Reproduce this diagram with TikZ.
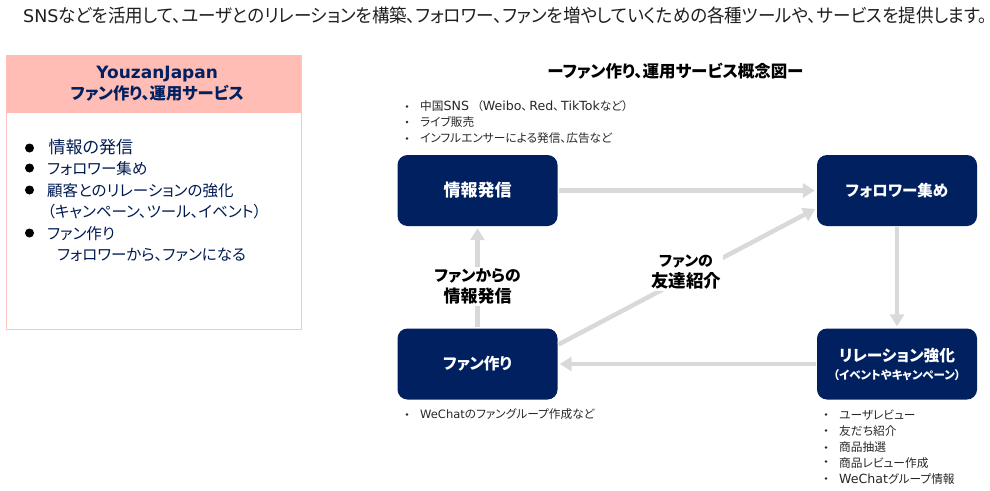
\documentclass[tikz,border=0pt]{standalone}
\usepackage{fontspec}
\usetikzlibrary{arrows.meta,calc}
\setmainfont{Noto Sans CJK JP}[RawFeature={+palt}]
\newfontfamily\topfont{Noto Sans CJK JP}[RawFeature={+palt},FakeStretch=0.947]
\newfontfamily\lat{DejaVu Sans}
\newcommand{\latn}[1]{{\lat\fontsize{11.5}{16}\selectfont #1}}
\newcommand{\latb}[1]{{\lat\fontsize{12.6}{16}\selectfont #1}}
\definecolor{navy}{HTML}{002060}
\definecolor{pinkhead}{HTML}{FFBDB5}
\definecolor{pinkline}{HTML}{FFC4C0}
\definecolor{arrowgray}{HTML}{D9D9D9}
\tikzset{
  x=1pt,y=-1pt,
  flowbox/.style={draw=none,fill=navy,rounded corners=10pt,minimum width=160pt,minimum height=71pt,inner sep=0pt,text=white,align=center,font=\fontsize{15.7}{20}\selectfont\bfseries},
  flowarrow/.style={draw=arrowgray,line width=4.5pt,-{Triangle[length=12pt,width=14pt]},shorten <=1pt,shorten >=2pt},
  edgelabel/.style={fill=white,inner sep=2pt,align=center,text=black,font=\fontsize{15.8}{21}\selectfont\bfseries},
  notes/.style={anchor=north west,inner sep=0pt,align=left,text=black!85,font=\fontsize{11.7}{16}\selectfont},
  listtext/.style={anchor=north west,inner sep=0pt,align=left,text=navy!85!black,font=\fontsize{15.5}{21.4}\selectfont},
}
\begin{document}
\begin{tikzpicture}
\useasboundingbox (0,0) rectangle (990,490);
% top line
\node[anchor=west,inner sep=0pt,text=black!88,font=\fontsize{18.5}{22}\selectfont] (toptext) at (23,15) {{\lat\fontsize{17.5}{22}\selectfont SNS}{\topfont などを活用して、ユーザとのリレーションを構築、フォロワー、ファンを増やしていくための各種ツールや、サービスを提供します。}};
% left panel
\node[draw=pinkline,line width=0.8pt,fill=white,minimum width=295pt,minimum height=274pt,inner sep=0pt,anchor=north west] (panel) at (5.5,54.5) {};
\node[fill=pinkhead,minimum width=295pt,minimum height=58pt,inner sep=0pt,anchor=north west,align=center,text=navy,font=\fontsize{16.3}{21}\selectfont\bfseries] (panelhead) at (5.5,54.5) {\hspace*{8pt}{\lat\fontsize{17}{21}\selectfont YouzanJapan}\\\hspace*{8pt}ファン作り、運用サービス};
\fill (29.5,148) circle (4.5) (29.5,168) circle (4.5) (29.5,190) circle (4.5) (29.5,233) circle (4.5);
\node[listtext] (listtext) at (47,139) {\hspace*{1.5pt}{\fontsize{17}{21.4}\selectfont 情報の発信}\\フォロワー集め\\顧客とのリレーションの強化\\（キャンペーン、ツール、イベント）\\ファン作り\\\hspace*{10pt}フォロワーから、ファンになる};
% title
\node[inner sep=0pt,text=black,font=\fontsize{16.5}{18}\selectfont\bfseries] (title) at (675.5,71.5) {ーファン作り、運用サービス概念図ー};
% boxes
\node[flowbox,font=\fontsize{17}{20}\selectfont\bfseries] (info) at (477.5,190.5) {情報発信};
\node[flowbox,font=\fontsize{15.5}{20}\selectfont\bfseries] (follow) at (897,190.5) {フォロワー集め};
\node[flowbox] (rel) at (897,364) {リレーション強化\\[-2pt]{\fontsize{11.5}{13}\selectfont （イベントやキャンペーン）}};
\node[flowbox] (fan) at (477.5,364) {ファン作り};
% connectors
\coordinate (diagA) at (557.5,345);
\coordinate (diagB) at (817,208);
\draw[flowarrow] (info) -- (follow);
\draw[flowarrow] (follow) -- (rel);
\draw[flowarrow] (rel) -- (fan);
\draw[flowarrow] (fan) -- (info);
\draw[flowarrow] (diagA) -- (diagB);
\node[edgelabel] (lab1) at (477.5,286.5) {ファンからの\\{\fontsize{17}{21}\selectfont 情報発信}};
\node[edgelabel] (lab2) at (686,272) {{\fontsize{15}{21}\selectfont ファンの}\\{\fontsize{17.5}{21}\selectfont 友達紹介}};
% notes
\fill[black!85] (407,106.5) circle (1.4) (407,122) circle (1.4) (407,138.5) circle (1.4);
\node[notes] (n1) at (420,100.5) {中国\latb{SNS}\hspace{8pt}（\latb{Weibo}、\hspace{2pt}\latb{Red}、\hspace{2pt}\latb{TikTok}など）\\ライブ販売\\インフルエンサーによる発信、広告など};
\fill[black!85] (407,414.5) circle (1.4);
\node[notes] (n2) at (420,408) {\latn{WeChat}のファングループ作成など};
\fill[black!85] (826,414.5) circle (1.4) (826,430.5) circle (1.4) (826,447.5) circle (1.4) (826,461.5) circle (1.4) (826,478.5) circle (1.4);
\node[notes] (n3) at (839,409.5) {ユーザレビュー\\友だち紹介\\商品抽選\\商品レビュー作成\\\latb{WeChat}グループ情報};
\end{tikzpicture}
\end{document}
